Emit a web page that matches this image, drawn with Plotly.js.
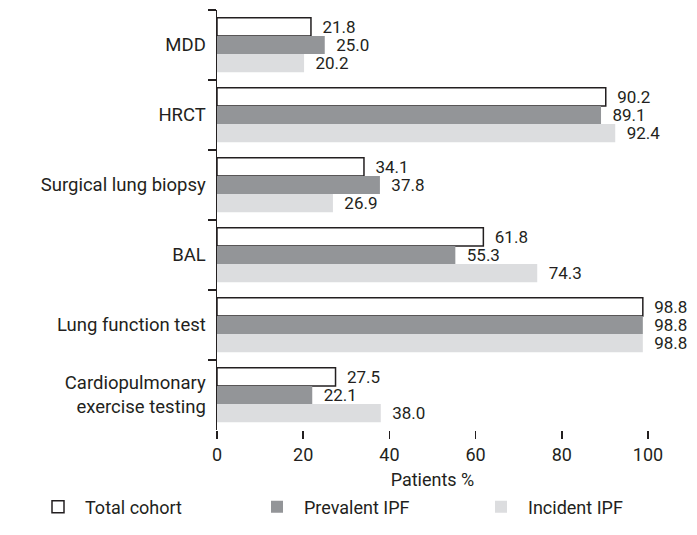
<!DOCTYPE html>
<html>
<head>
<meta charset="utf-8">
<script src="https://cdn.plot.ly/plotly-3.0.1.min.js"></script>
<style>html,body{margin:0;padding:0;background:#fff;}#chart{width:697px;height:535px;}</style>
</head>
<body>
<div id="chart"></div>
<script>
const categories = ["MDD", "HRCT", "Surgical lung biopsy", "BAL", "Lung function test", "Cardiopulmonary<br>exercise testing"];
const seriesNames = ["Total cohort", "Prevalent IPF", "Incident IPF"];
const totalCohort = [21.8, 90.2, 34.1, 61.8, 98.8, 27.5];
const prevalentIPF = [25.0, 89.1, 37.8, 55.3, 98.8, 22.1];
const incidentIPF = [20.2, 92.4, 26.9, 74.3, 98.8, 38.0];
const xTicks = [0, 20, 40, 60, 80, 100];

const ink = "#231f20";
const font = "Roboto, 'DejaVu Sans', sans-serif";

function barTrace(name, values, fill, lineColor, lineWidth, legendId) {
  return {
    type: "bar",
    orientation: "h",
    name: name,
    legend: legendId,
    y: categories,
    x: values,
    marker: {color: fill, line: {color: lineColor, width: lineWidth}},
    texttemplate: "\u00a0\u00a0%{x:.1f}",
    textposition: "outside",
    constraintext: "none",
    cliponaxis: false,
    textfont: {family: font, size: 17, color: ink},
    hoverinfo: "skip"
  };
}

const data = [
  barTrace(seriesNames[0], totalCohort, "#ffffff", ink, 1.5, "legend"),
  barTrace(seriesNames[1], prevalentIPF, "#939598", "#939598", 0, "legend2"),
  barTrace(seriesNames[2], incidentIPF, "#dcdddf", "#dcdddf", 0, "legend3")
];

// plot area: x from 217 to 648 px, y from 10 to 430 px
function legendAt(px) {
  return {
    orientation: "h",
    x: (px - 217) / 431,
    xanchor: "left",
    y: (430 - 507) / 420,
    yanchor: "middle",
    itemwidth: 44,
    font: {family: font, size: 18, color: ink},
    bgcolor: "rgba(0,0,0,0)",
    borderwidth: 0
  };
}

const layout = {
  width: 697,
  height: 535,
  margin: {l: 217, r: 49, t: 10, b: 105, autoexpand: false},
  paper_bgcolor: "#ffffff",
  plot_bgcolor: "#ffffff",
  font: {family: font, size: 18, color: ink},
  barmode: "group",
  bargap: 0.22,
  bargroupgap: 0,
  showlegend: true,
  xaxis: {
    range: [0, 100],
    tickvals: xTicks,
    ticktext: xTicks.map(String),
    ticks: "outside",
    ticklen: 8,
    tickwidth: 1.5,
    tickcolor: ink,
    showline: false,
    showgrid: false,
    zeroline: false,
    automargin: false,
    tickfont: {family: font, size: 18, color: ink},
    title: {text: "Patients %", font: {family: font, size: 18, color: ink}, standoff: 9}
  },
  yaxis: {
    type: "category",
    categoryorder: "array",
    categoryarray: categories,
    autorange: "reversed",
    tickson: "boundaries",
    ticks: "outside",
    ticklen: 8,
    tickwidth: 1.5,
    tickcolor: ink,
    showline: true,
    linecolor: ink,
    linewidth: 1.5,
    showgrid: false,
    zeroline: false,
    automargin: false,
    ticklabelstandoff: 6,
    tickfont: {family: font, size: 18.5, color: ink}
  },
  legend: legendAt(31),
  legend2: legendAt(250),
  legend3: legendAt(474)
};

Plotly.newPlot("chart", data, layout, {displayModeBar: false, staticPlot: true});
</script>
</body>
</html>
